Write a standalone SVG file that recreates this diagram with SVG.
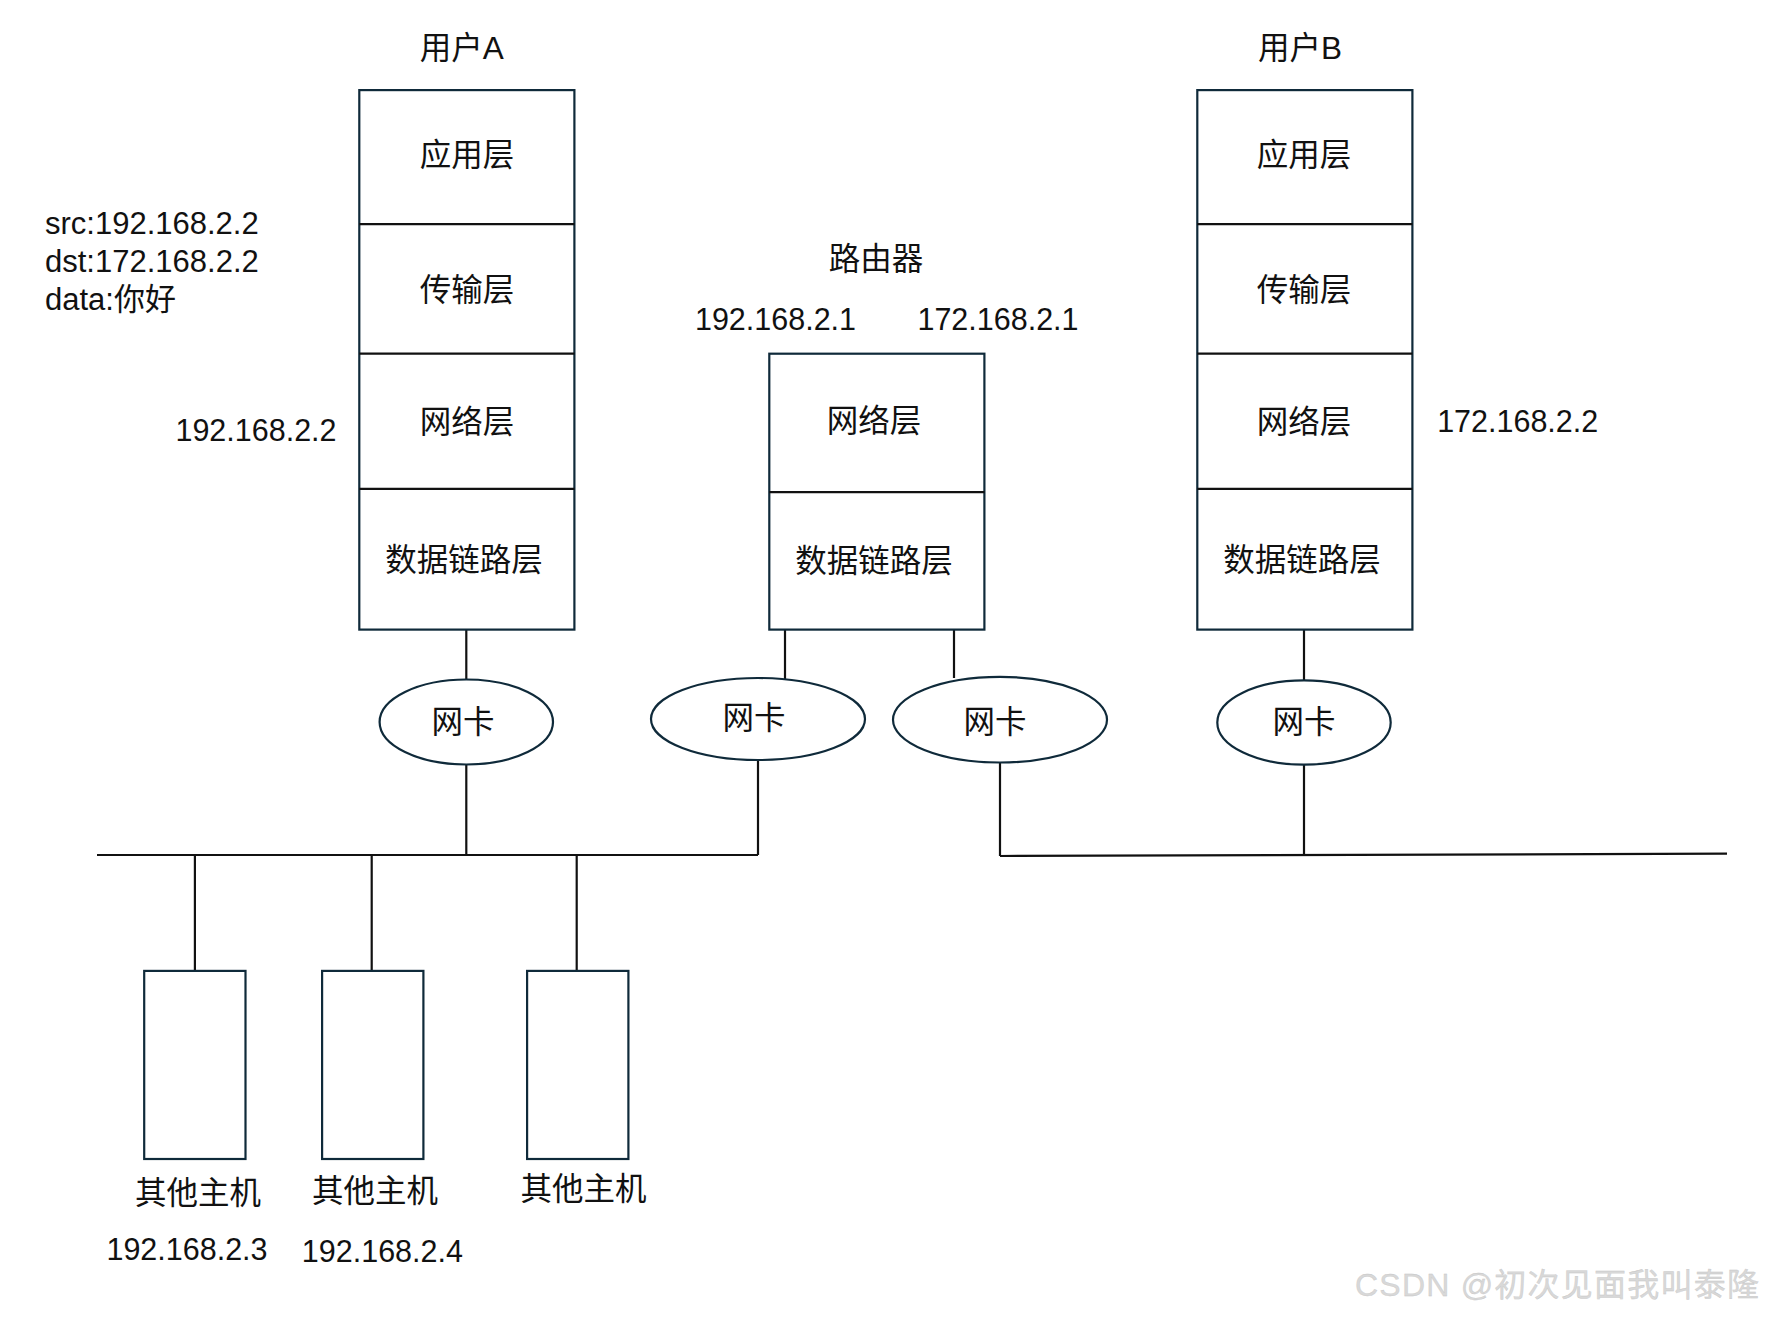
<svg xmlns="http://www.w3.org/2000/svg" width="1766" height="1317" viewBox="0 0 1766 1317">
<style>
.box{fill:#fff;stroke:#0f2a3a;stroke-width:2.2}
.div{stroke:#111;stroke-width:2.2}
.nic{fill:#fff;stroke:#0f2a3a;stroke-width:2.2}
.ln{stroke:#111;stroke-width:2.2;fill:none}
text{font-family:"Liberation Sans","Noto Sans CJK SC",sans-serif;fill:#111;dominant-baseline:central}
.cn{font-size:31.5px;text-anchor:middle}
.ip{font-size:30.5px;text-anchor:middle}
.lt{font-size:31px}
.wm{font-size:32px;fill:#d8d8d8;stroke:#c4c4c4;stroke-width:0.3}
</style>
<rect width="1766" height="1317" fill="#fff"/>

<g id="connectors">
<line class="ln" x1="466.3" y1="629.6" x2="466.3" y2="680"/>
<line class="ln" x1="466.3" y1="764" x2="466.3" y2="855"/>
<line class="ln" x1="785" y1="629.6" x2="785" y2="680"/>
<line class="ln" x1="954" y1="629.6" x2="954" y2="678"/>
<line class="ln" x1="758" y1="760" x2="758" y2="855"/>
<line class="ln" x1="1000" y1="762" x2="1000" y2="856"/>
<line class="ln" x1="1304" y1="629.6" x2="1304" y2="680"/>
<line class="ln" x1="1304" y1="764" x2="1304" y2="855"/>
<line class="ln" x1="97" y1="855" x2="758" y2="855"/>
<line class="ln" x1="1000" y1="856" x2="1727" y2="853.7"/>
<line class="ln" x1="194.9" y1="855" x2="194.9" y2="971"/>
<line class="ln" x1="371.7" y1="855" x2="371.7" y2="971"/>
<line class="ln" x1="576.7" y1="855" x2="576.7" y2="971"/>
</g>

<g id="userA">
<text class="cn" x="461.8" y="48.4">用户A</text>
<rect class="box" x="359.3" y="90.1" width="215.1" height="539.5"/>
<line class="div" x1="359.3" y1="224.1" x2="574.4" y2="224.1"/>
<line class="div" x1="359.3" y1="353.7" x2="574.4" y2="353.7"/>
<line class="div" x1="359.3" y1="488.8" x2="574.4" y2="488.8"/>
<text class="cn" x="467" y="155.4">应用层</text>
<text class="cn" x="467" y="289.5">传输层</text>
<text class="cn" x="467" y="422">网络层</text>
<text class="cn" x="464" y="560">数据链路层</text>
</g>

<g id="packet">
<text class="lt" x="45" y="223">src:192.168.2.2</text>
<text class="lt" x="45" y="261">dst:172.168.2.2</text>
<text class="lt" x="45" y="299.6">data:你好</text>
</g>
<text id="ipA" class="ip" x="256" y="430">192.168.2.2</text>

<g id="router">
<text class="cn" x="876" y="259">路由器</text>
<text class="ip" x="775.5" y="318.7">192.168.2.1</text>
<text class="ip" x="998" y="318.7">172.168.2.1</text>
<rect class="box" x="769.3" y="353.7" width="215.1" height="275.9"/>
<line class="div" x1="769.3" y1="492.2" x2="984.4" y2="492.2"/>
<text class="cn" x="874" y="421">网络层</text>
<text class="cn" x="874" y="561">数据链路层</text>
</g>

<g id="userB">
<text class="cn" x="1300" y="48.4">用户B</text>
<rect class="box" x="1197.3" y="90.1" width="215.1" height="539.5"/>
<line class="div" x1="1197.3" y1="224.1" x2="1412.4" y2="224.1"/>
<line class="div" x1="1197.3" y1="353.7" x2="1412.4" y2="353.7"/>
<line class="div" x1="1197.3" y1="488.8" x2="1412.4" y2="488.8"/>
<text class="cn" x="1304" y="155.4">应用层</text>
<text class="cn" x="1304" y="289.5">传输层</text>
<text class="cn" x="1304" y="422">网络层</text>
<text class="cn" x="1302" y="560">数据链路层</text>
</g>
<text id="ipB" class="ip" x="1517.7" y="421">172.168.2.2</text>

<g id="nicA"><ellipse class="nic" cx="466.3" cy="722" rx="86.7" ry="42.5"/><text class="cn" x="463" y="722">网卡</text></g>
<g id="nicR1"><ellipse class="nic" cx="758" cy="719" rx="107" ry="41"/><text class="cn" x="754" y="718">网卡</text></g>
<g id="nicR2"><ellipse class="nic" cx="1000" cy="719.7" rx="107" ry="42.8"/><text class="cn" x="995" y="722">网卡</text></g>
<g id="nicB"><ellipse class="nic" cx="1304" cy="722.5" rx="86.7" ry="42.2"/><text class="cn" x="1304" y="722">网卡</text></g>

<g id="host1"><rect class="box" x="144.2" y="970.9" width="101.3" height="188.1"/><text class="cn" x="198" y="1192.7">其他主机</text><text class="ip" x="187" y="1249">192.168.2.3</text></g>
<g id="host2"><rect class="box" x="322.1" y="970.9" width="101.3" height="188.1"/><text class="cn" x="375" y="1190.5">其他主机</text><text class="ip" x="382.4" y="1251.3">192.168.2.4</text></g>
<g id="host3"><rect class="box" x="527.1" y="970.9" width="101.3" height="188.1"/><text class="cn" x="583.4" y="1189.4">其他主机</text></g>

<text class="wm" x="1355" y="1285" textLength="404">CSDN @初次见面我叫泰隆</text>
</svg>
